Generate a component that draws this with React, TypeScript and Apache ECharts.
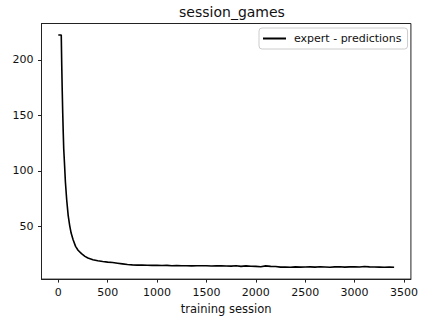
import React, { useEffect, useRef } from "react";
import * as echarts from "echarts";

const sessions: number[] = [
  0, 30, 35, 40, 45, 50, 55, 62, 72, 85, 100, 115, 130, 150, 175, 200, 235, 270, 300, 350, 400, 450, 500, 550, 600, 650,
  700, 750, 800, 850, 900, 950, 1000, 1050, 1100, 1150, 1200, 1250, 1300, 1350, 1400, 1450, 1500, 1550, 1600, 1650,
  1700, 1750, 1800, 1850, 1900, 1950, 2000, 2050, 2100, 2150, 2200, 2250, 2300, 2350, 2400, 2450, 2500, 2550, 2600,
  2650, 2700, 2750, 2800, 2850, 2900, 2950, 3000, 3050, 3100, 3150, 3200, 3250, 3300, 3350, 3400,
];
const games: number[] = [
  222.5, 222.5, 195, 172, 152, 135, 120, 108, 90, 74, 60, 51, 44, 38, 32, 28.5, 25.5, 23, 21.5, 20, 19, 18.3, 17.8, 17.4, 16.8, 16.2,
  15.6, 15.3, 15.1, 15.2, 15.0, 14.9, 15.0, 14.7, 14.9, 14.6, 14.8, 14.5, 14.6, 14.4, 14.6, 14.5, 14.6, 14.3, 14.5, 14.4,
  14.3, 14.2, 14.6, 14.0, 14.4, 14.1, 14.0, 13.6, 14.4, 14.0, 13.8, 13.3, 13.4, 13.2, 13.5, 13.3, 13.4, 13.5, 13.3,
  13.6, 13.4, 13.2, 13.5, 13.6, 13.3, 13.5, 13.7, 13.4, 13.8, 13.5, 13.4, 13.3, 13.2, 13.3, 13.2,
];
const xTicks: number[] = [0, 500, 1000, 1500, 2000, 2500, 3000, 3500];
const yTicks: number[] = [50, 100, 150, 200];

const FONT = "DejaVu Sans";

export default function App() {
  const ref = useRef<HTMLDivElement>(null);
  useEffect(() => {
    if (!ref.current) return;
    const chart = echarts.init(ref.current, null, { renderer: "svg" });
    chart.setOption({
      animation: false,
      backgroundColor: "#fff",
      title: {
        text: "session_games",
        left: 227,
        textAlign: "center",
        top: 0,
        textStyle: { fontFamily: FONT, fontSize: 14, fontWeight: "normal", color: "#111" },
      },
      legend: {
        left: 259,
        top: 28,
        padding: [5, 6, 5, 4],
        borderColor: "#ccc",
        borderWidth: 1,
        borderRadius: 3,
        itemWidth: 23,
        itemHeight: 2,
        icon: "rect",
        data: [{ name: "expert - predictions", icon: "rect" }],
        textStyle: { fontFamily: FONT, fontSize: 11, color: "#111", padding: [0, 0, 0, 3] },
      },
      grid: {
        left: 41.5,
        right: 9,
        top: 23.5,
        bottom: 40.5,
        show: true,
        borderColor: "#222",
        borderWidth: 1,
        backgroundColor: "transparent",
      },
      xAxis: {
        type: "value",
        min: -170,
        max: 3570,
        name: "training session",
        nameLocation: "middle",
        nameGap: 23,
        nameTextStyle: { fontFamily: FONT, fontSize: 11.5, color: "#111" },
        axisLine: { show: true, onZero: false, lineStyle: { color: "#222", width: 1 } },
        axisTick: { show: true, length: 3.5, lineStyle: { color: "#222" }, customValues: xTicks },
        axisLabel: {
          fontFamily: FONT,
          fontSize: 11,
          color: "#111",
          margin: 8,
          customValues: xTicks,
          formatter: (v: number) => String(v),
        },
        splitLine: { show: false },
      },
      yAxis: {
        type: "value",
        min: 2.5,
        max: 232.9,
        axisLine: { show: true, onZero: false, lineStyle: { color: "#222", width: 1 } },
        axisTick: { show: true, length: 3.5, lineStyle: { color: "#222" }, customValues: yTicks },
        axisLabel: {
          fontFamily: FONT,
          fontSize: 11,
          color: "#111",
          margin: 8,
          customValues: yTicks,
          formatter: (v: number) => String(v),
        },
        splitLine: { show: false },
      },
      series: [
        {
          name: "expert - predictions",
          type: "line",
          data: sessions.map((s, i) => [s, games[i]]),
          showSymbol: false,
          symbol: "none",
          color: "#000",
          lineStyle: { color: "#000", width: 1.6 },
        },
      ],
    });
    return () => chart.dispose();
  }, []);
  return <div ref={ref} style={{ position: "fixed", left: 0, top: 0, width: 421, height: 320 }} />;
}
